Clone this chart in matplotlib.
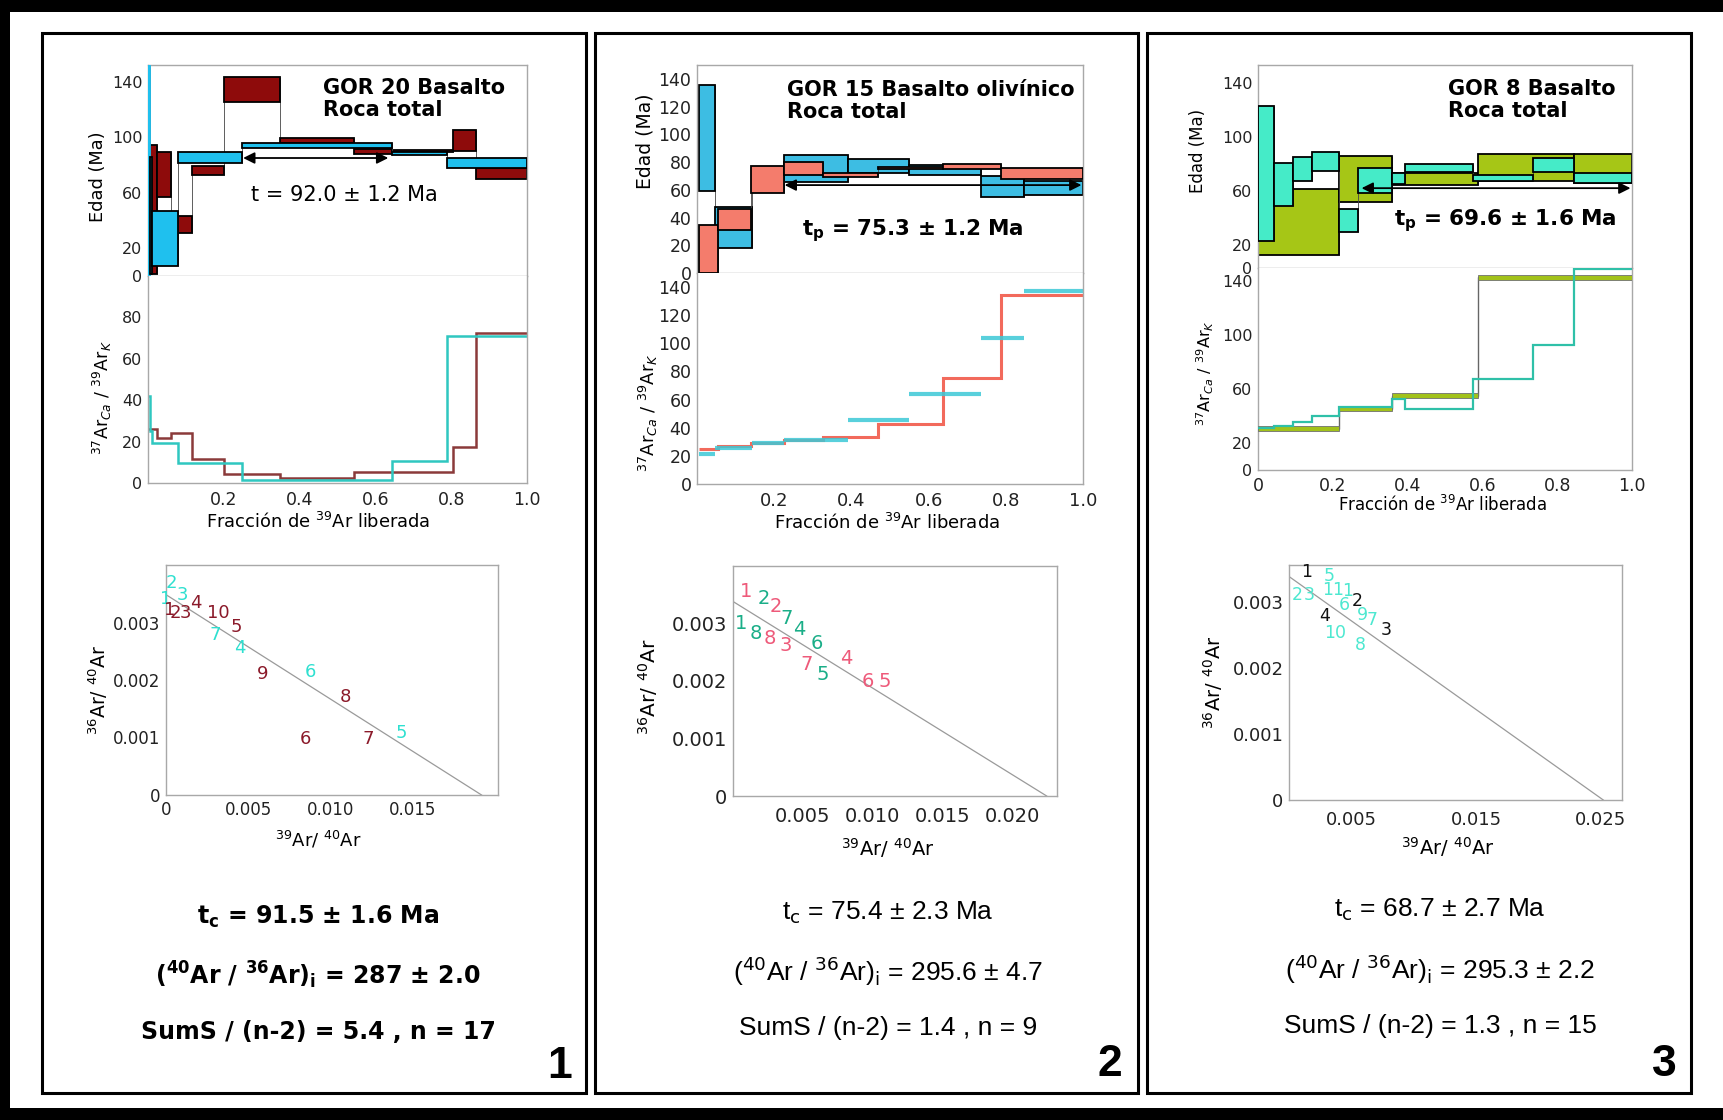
import matplotlib
matplotlib.use("Agg")
import matplotlib.pyplot as plt
from matplotlib.patches import Rectangle
import numpy as np

# ---------------- DATA ----------------
# Panel 1 : GOR 20
p1_red_edges = [0.0, 0.024, 0.062, 0.115, 0.200, 0.348, 0.544, 0.643, 0.806, 0.866, 1.0]
p1_red_lo = [1.5, 57, 31, 73, 125, 96, 88, 89, 90, 70]
p1_red_hi = [94.7, 89, 43, 79, 143, 99.5, 91.5, 91, 105, 78]
p1_cyan_edges = [0.0, 0.004, 0.011, 0.078, 0.247, 0.643, 0.789, 1.0]
p1_cyan_lo = [0, 1.5, 7, 81.5, 92, 87, 78]
p1_cyan_hi = [160, 86, 47, 89.5, 95.5, 89.5, 85]
p1_red_ratio = [26, 21.6, 24, 11.5, 4.5, 2.4, 5.3, 5.3, 17.6, 72.3]
p1_cyan_ratio = [42, 25, 19.5, 9.6, 1.6, 10.4, 71]
p1_plateau = [0.251, 0.634, 85]
p1_iso_line = [0.003484, 0.0192]
p1_cyan_lab = ["1", "2", "3", "7", "4", "6", "5"]
p1_cyan_x = [0.0000, 0.0003, 0.0010, 0.0030, 0.0045, 0.0088, 0.0143]
p1_cyan_y = [0.00340, 0.00369, 0.00348, 0.00278, 0.00255, 0.00214, 0.00107]
p1_red_lab = ["1", "2", "3", "4", "10", "5", "9", "6", "8", "7"]
p1_red_x = [0.0002, 0.0006, 0.0012, 0.0018, 0.0032, 0.0043, 0.0059, 0.0085, 0.0109, 0.0123]
p1_red_y = [0.00322, 0.00317, 0.00317, 0.00334, 0.00316, 0.00293, 0.00211, 0.00098, 0.00171, 0.00098]

# Panel 2 : GOR 15
p2_sal_edges = [0.005, 0.055, 0.141, 0.225, 0.326, 0.469, 0.637, 0.788, 1.0]
p2_sal_lo = [0, 31, 58, 70.6, 69.4, 74.7, 74.7, 67.5]
p2_sal_hi = [34.5, 46, 77, 80.2, 71.8, 76.6, 78.6, 75.4]
p2_cyan_edges = [0.005, 0.046, 0.143, 0.225, 0.391, 0.549, 0.737, 0.846, 1.0]
p2_cyan_lo = [59, 18, 60, 65.8, 71.8, 70.6, 55, 56]
p2_cyan_hi = [135.7, 47.7, 76, 85, 82, 77.8, 70, 66]
p2_sal_ratio = [25, 27, 29.2, 31, 33.5, 42.6, 75.4, 134.7]
p2_cyan_ratio = [21, 25.5, 29, 31.6, 45.5, 64, 103.5, 137]
p2_plateau = [0.227, 0.996, 63.4]
p2_iso_line = [0.003383, 0.02246]
p2_sal_lab = ["1", "2", "8", "3", "7", "4", "6", "5"]
p2_sal_x = [0.00093, 0.0031, 0.00266, 0.00376, 0.00524, 0.0081, 0.00967, 0.01086]
p2_sal_y = [0.00355, 0.00329, 0.00274, 0.00261, 0.00228, 0.00240, 0.00199, 0.00199]
p2_teal_lab = ["1", "2", "7", "8", "4", "6", "5"]
p2_teal_x = [0.00057, 0.00218, 0.0038, 0.00165, 0.00476, 0.0060, 0.00644]
p2_teal_y = [0.00300, 0.00343, 0.00309, 0.00283, 0.00290, 0.00265, 0.00211]

# Panel 3 : GOR 8
p3_cyan_edges = [0.0, 0.043, 0.094, 0.145, 0.217, 0.268, 0.357, 0.393, 0.576, 0.735, 0.844, 1.0]
p3_cyan_lo = [23, 49, 67, 74.8, 29.4, 58.3, 65, 74.3, 67, 74.3, 66]
p3_cyan_hi = [122.5, 80.5, 84.7, 88.4, 46.7, 76.8, 73, 80, 72, 84.2, 73]
p3_olive_edges = [0.0, 0.217, 0.357, 0.589, 0.844, 1.0]
p3_olive_lo = [12.6, 51.4, 64.4, 67, 66]
p3_olive_hi = [61.2, 86, 73, 87, 87]
p3_cyan_ratio = [31.4, 32.6, 36, 40, 46.7, 46.7, 53, 45, 67.7, 92.8, 149]
p3_olive_ratio = [30.6, 45.5, 55.3, 143, 143]
p3_plateau = [0.277, 0.996, 62]
p3_iso_line = [0.003386, 0.0252]
p3_blk_lab = ["1", "2", "4", "3"]
p3_blk_x = [0.0014, 0.0055, 0.00285, 0.0078]
p3_blk_y = [0.00346, 0.00302, 0.00278, 0.00258]
p3_cyan_lab = ["2", "3", "5", "11", "1", "6", "9", "7", "10", "8"]
p3_cyan_x = [0.00067, 0.0016, 0.0032, 0.0035, 0.0047, 0.0044, 0.0059, 0.0067, 0.0037, 0.0057]
p3_cyan_y = [0.00310, 0.00310, 0.00340, 0.00318, 0.00316, 0.00295, 0.00280, 0.00273, 0.00253, 0.00235]

# ---------------- FIGURE ----------------
W, H = 1724, 1120
fig = plt.figure(figsize=(W / 100, H / 100), dpi=100)
fig.patch.set_facecolor("white")
SANS2 = "Liberation Sans"


def fx(x):
    return x / W


def fy(y):
    return 1 - y / H


def ax_px(l, t, r, b):
    return fig.add_axes([l / W, 1 - b / H, (r - l) / W, (b - t) / H])


def frect(x0, y0, x1, y1, **kw):
    fig.add_artist(Rectangle((fx(x0), fy(y1)), (x1 - x0) / W, (y1 - y0) / H,
                             transform=fig.transFigure, **kw))


def style(ax, fs):
    for s in ax.spines.values():
        s.set_color("#A8A8A8")
        s.set_linewidth(1.0)
    ax.tick_params(length=0, labelsize=fs, pad=4, colors="#222222")


def boxes(ax, edges, lo, hi, color, z, first_edge="black"):
    e = np.asarray(edges, float)
    lo = np.asarray(lo, float)
    hi = np.asarray(hi, float)
    for i in range(len(lo) - 1):
        ax.vlines(e[i + 1], min(lo[i], lo[i + 1]), max(hi[i], hi[i + 1]),
                  color="#444444", lw=0.6, zorder=z - 0.5)
    ec = [first_edge] + ["black"] * (len(lo) - 1)
    ax.bar(e[:-1], hi - lo, width=np.diff(e), bottom=lo, align="edge",
           color=color, edgecolor=ec, linewidth=1.3, zorder=z)


def arrow(ax, p):
    ax.annotate("", xy=(p[1], p[2]), xytext=(p[0], p[2]),
                arrowprops=dict(arrowstyle="<|-|>", lw=1.3, color="black",
                                mutation_scale=17, shrinkA=0, shrinkB=0), zorder=10)


def iso_labels(ax, labs, xs, ys, color, fs):
    for l, x, y in zip(labs, xs, ys):
        ax.text(x, y, l, color=color, fontsize=fs, ha="center", va="center", zorder=5)


xlab = "Fracción de $^{39}$Ar liberada"
ratlab = "$^{37}$Ar$_{Ca}$ / $^{39}$Ar$_{K}$"
isoy = "$^{36}$Ar/ $^{40}$Ar"
isox = "$^{39}$Ar/ $^{40}$Ar"

# outer frame
frect(0, 0, W, 12, color="black", lw=0)
frect(0, 0, 10, H, color="black", lw=0)
frect(0, 1108, W, H, color="black", lw=0)
# panel boxes
for (l, r) in [(42, 586), (595, 1138), (1147, 1691)]:
    frect(l, 33, r, 1093, fill=False, ec="black", lw=2.2)

# ======== Panel 1 ========
a = ax_px(148, 65, 527, 276)
style(a, 11.5)
boxes(a, p1_red_edges, p1_red_lo, p1_red_hi, "#8E0B0B", 2)
boxes(a, p1_cyan_edges, p1_cyan_lo, p1_cyan_hi, "#1FC0EE", 3, first_edge="#1FC0EE")
arrow(a, p1_plateau)
a.set_xlim(0, 1)
a.set_ylim(0, 152)
a.set_xticks([])
a.set_yticks([0, 20, 60, 100, 140])

r = ax_px(148, 276, 527, 483)
style(r, 11.5)
r.spines["top"].set_visible(False)
r.stairs(p1_red_ratio, p1_red_edges, color="#8B3A3A", lw=1.8, baseline=None)
r.stairs(p1_cyan_ratio, p1_cyan_edges, color="#2FC7C0", lw=1.8, baseline=None)
r.set_xlim(0, 1)
r.set_ylim(0, 100)
r.set_xticks([0.2, 0.4, 0.6, 0.8, 1.0])
r.set_xticklabels(["0.2", "0.4", "0.6", "0.8", "1.0"])
r.set_yticks([0, 20, 40, 60, 80])
r.tick_params(axis="x", pad=6, labelsize=12.5)

i1 = ax_px(166, 565, 498, 795)
style(i1, 12)
i1.plot([0, p1_iso_line[1]], [p1_iso_line[0], 0], color="#9A9A9A", lw=0.9)
iso_labels(i1, p1_cyan_lab, p1_cyan_x, p1_cyan_y, "#2EE0D0", 13)
iso_labels(i1, p1_red_lab, p1_red_x, p1_red_y, "#8B1A2A", 13)
i1.set_xlim(0, 0.0202)
i1.set_ylim(0, 0.004)
i1.set_xticks([0, 0.005, 0.010, 0.015])
i1.set_xticklabels(["0", "0.005", "0.010", "0.015"])
i1.set_yticks([0, 0.001, 0.002, 0.003])
i1.set_yticklabels(["0", "0.001", "0.002", "0.003"])

fig.text(fx(98), fy(177), "Edad (Ma)", rotation=90, ha="center", va="center", fontsize=12.8)
fig.text(fx(102), fy(398), ratlab, rotation=90, ha="center", va="center", fontsize=12.5)
fig.text(fx(318), fy(522), xlab, ha="center", va="center", fontsize=12.9)
fig.text(fx(98), fy(690), isoy, rotation=90, ha="center", va="center", fontsize=13.5)
fig.text(fx(318), fy(840), isox, ha="center", va="center", fontsize=13)
fig.text(fx(323), fy(78), "GOR 20 Basalto\nRoca total", ha="left", va="top",
         fontsize=15, fontweight="bold", linespacing=1.15)
fig.text(fx(344), fy(195), "t = 92.0 ± 1.2 Ma", ha="center", va="center", fontsize=15)
fig.text(fx(318), fy(917), r"t$_{\mathbf{c}}$ = 91.5 ± 1.6 Ma", ha="center", va="center",
         fontsize=17, fontweight="bold")
fig.text(fx(318), fy(975), r"($^{\mathbf{40}}$Ar / $^{\mathbf{36}}$Ar)$_{\mathbf{i}}$ = 287 ± 2.0",
         ha="center", va="center", fontsize=17, fontweight="bold")
fig.text(fx(318), fy(1032), "SumS / (n-2) = 5.4 , n = 17", ha="center", va="center",
         fontsize=17, fontweight="bold")
fig.text(fx(560), fy(1067), "1", ha="center", va="center", fontsize=32,
         fontweight="bold", family=SANS2)

# ======== Panel 2 ========
a = ax_px(697, 65, 1083, 273)
style(a, 12.5)
boxes(a, p2_cyan_edges, p2_cyan_lo, p2_cyan_hi, "#3DBDE3", 2)
boxes(a, p2_sal_edges, p2_sal_lo, p2_sal_hi, "#F47C6C", 3)
arrow(a, p2_plateau)
a.set_xlim(0, 1)
a.set_ylim(0, 150)
a.set_xticks([])
a.set_yticks([0, 20, 40, 60, 80, 100, 120, 140])

r = ax_px(697, 273, 1083, 484)
style(r, 12.5)
r.spines["top"].set_visible(False)
ce = np.asarray(p2_cyan_edges)
r.hlines(p2_cyan_ratio, ce[:-1], ce[1:], color="#3CC8D6", lw=3, alpha=0.85)
r.stairs(p2_sal_ratio, p2_sal_edges, color="#F26A5C", lw=2.2, baseline=None)
r.set_xlim(0, 1)
r.set_ylim(0, 150)
r.set_xticks([0.2, 0.4, 0.6, 0.8, 1.0])
r.set_xticklabels(["0.2", "0.4", "0.6", "0.8", "1.0"])
r.set_yticks([0, 20, 40, 60, 80, 100, 120, 140])
r.tick_params(axis="x", pad=6, labelsize=13)

i2 = ax_px(733, 566, 1057, 796)
style(i2, 14)
i2.plot([0, p2_iso_line[1]], [p2_iso_line[0], 0], color="#9A9A9A", lw=0.9)
iso_labels(i2, p2_sal_lab, p2_sal_x, p2_sal_y, "#EE5A7A", 14)
iso_labels(i2, p2_teal_lab, p2_teal_x, p2_teal_y, "#1AAE88", 14)
i2.set_xlim(0, 0.0232)
i2.set_ylim(0, 0.004)
i2.set_xticks([0.005, 0.010, 0.015, 0.020])
i2.set_xticklabels(["0.005", "0.010", "0.015", "0.020"])
i2.set_yticks([0, 0.001, 0.002, 0.003])
i2.set_yticklabels(["0", "0.001", "0.002", "0.003"])
i2.tick_params(axis="x", pad=8)

fig.text(fx(645), fy(141), "Edad (Ma)", rotation=90, ha="center", va="center", fontsize=13.5)
fig.text(fx(648), fy(413), ratlab, rotation=90, ha="center", va="center", fontsize=13)
fig.text(fx(887), fy(523), xlab, ha="center", va="center", fontsize=13)
fig.text(fx(648), fy(687), isoy, rotation=90, ha="center", va="center", fontsize=14.5)
fig.text(fx(888), fy(848), isox, ha="center", va="center", fontsize=14)
fig.text(fx(787), fy(80), "GOR 15 Basalto olivínico\nRoca total", ha="left", va="top",
         fontsize=15, fontweight="bold", linespacing=1.15)
fig.text(fx(913), fy(231), r"t$_{\mathbf{p}}$ = 75.3 ± 1.2 Ma", ha="center", va="center",
         fontsize=15.5, fontweight="bold")
fig.text(fx(888), fy(913), r"t$_{\mathrm{c}}$ = 75.4 ± 2.3 Ma", ha="center", va="center",
         fontsize=19, family=SANS2)
fig.text(fx(888), fy(971), r"($^{40}$Ar / $^{36}$Ar)$_{\mathrm{i}}$ = 295.6 ± 4.7", ha="center",
         va="center", fontsize=19, family=SANS2)
fig.text(fx(888), fy(1028), "SumS / (n-2) = 1.4 , n = 9", ha="center", va="center",
         fontsize=19, family=SANS2)
fig.text(fx(1110), fy(1064), "2", ha="center", va="center", fontsize=32,
         fontweight="bold", family=SANS2)

# ======== Panel 3 ========
a = ax_px(1258, 65, 1632, 268)
style(a, 11.5)
boxes(a, p3_olive_edges, p3_olive_lo, p3_olive_hi, "#A6C616", 2)
boxes(a, p3_cyan_edges, p3_cyan_lo, p3_cyan_hi, "#45EBC8", 3)
arrow(a, p3_plateau)
a.set_xlim(0, 1)
a.set_ylim(3, 153)
a.set_xticks([])
a.set_yticks([3, 20, 60, 100, 140])
a.set_yticklabels(["0", "20", "60", "100", "140"])

r = ax_px(1258, 268, 1632, 470)
style(r, 11.5)
r.spines["top"].set_visible(False)
oe = np.asarray(p3_olive_edges)
ov = np.asarray(p3_olive_ratio)
r.stairs(p3_olive_ratio, p3_olive_edges, color="#666666", lw=1.0, baseline=None, zorder=2)
r.bar(oe[:-1], 3.6, width=np.diff(oe), bottom=ov - 1.8, align="edge",
      color="#A2C21A", edgecolor="#707070", linewidth=0.6, zorder=3)
r.stairs(p3_cyan_ratio, p3_cyan_edges, color="#2FC0A8", lw=1.6, baseline=None, zorder=4)
r.set_xlim(0, 1)
r.set_ylim(0, 150)
r.set_xticks([0, 0.2, 0.4, 0.6, 0.8, 1.0])
r.set_xticklabels(["0", "0.2", "0.4", "0.6", "0.8", "1.0"])
r.set_yticks([0, 20, 60, 100, 140])
r.tick_params(axis="x", pad=5, labelsize=12.5)

i3 = ax_px(1289, 565, 1622, 800)
style(i3, 13)
i3.plot([0, p3_iso_line[1]], [p3_iso_line[0], 0], color="#9A9A9A", lw=0.9)
iso_labels(i3, p3_cyan_lab, p3_cyan_x, p3_cyan_y, "#4DE8D0", 12.5)
iso_labels(i3, p3_blk_lab, p3_blk_x, p3_blk_y, "#111111", 12.5)
i3.set_xlim(0, 0.0267)
i3.set_ylim(0, 0.00356)
i3.set_xticks([0.005, 0.015, 0.025])
i3.set_xticklabels(["0.005", "0.015", "0.025"])
i3.set_yticks([0, 0.001, 0.002, 0.003])
i3.set_yticklabels(["0", "0.001", "0.002", "0.003"])
i3.tick_params(axis="x", pad=8)

fig.text(fx(1198), fy(151), "Edad (Ma)", rotation=90, ha="center", va="center", fontsize=12)
fig.text(fx(1205), fy(373), ratlab, rotation=90, ha="center", va="center", fontsize=11.5)
fig.text(fx(1442), fy(505), xlab, ha="center", va="center", fontsize=12)
fig.text(fx(1213), fy(682), isoy, rotation=90, ha="center", va="center", fontsize=14)
fig.text(fx(1448), fy(847), isox, ha="center", va="center", fontsize=14)
fig.text(fx(1448), fy(79), "GOR 8 Basalto\nRoca total", ha="left", va="top",
         fontsize=15, fontweight="bold", linespacing=1.15)
fig.text(fx(1505), fy(221), r"t$_{\mathbf{p}}$ = 69.6 ± 1.6 Ma", ha="center", va="center",
         fontsize=15.5, fontweight="bold")
fig.text(fx(1440), fy(910), r"t$_{\mathrm{c}}$ = 68.7 ± 2.7 Ma", ha="center", va="center",
         fontsize=19, family=SANS2)
fig.text(fx(1440), fy(969), r"($^{40}$Ar / $^{36}$Ar)$_{\mathrm{i}}$ = 295.3 ± 2.2", ha="center",
         va="center", fontsize=19, family=SANS2)
fig.text(fx(1440), fy(1026), "SumS / (n-2) = 1.3 , n = 15", ha="center", va="center",
         fontsize=19, family=SANS2)
fig.text(fx(1664), fy(1064), "3", ha="center", va="center", fontsize=32,
         fontweight="bold", family=SANS2)

fig.savefig("out.png", dpi=100, facecolor="white")
